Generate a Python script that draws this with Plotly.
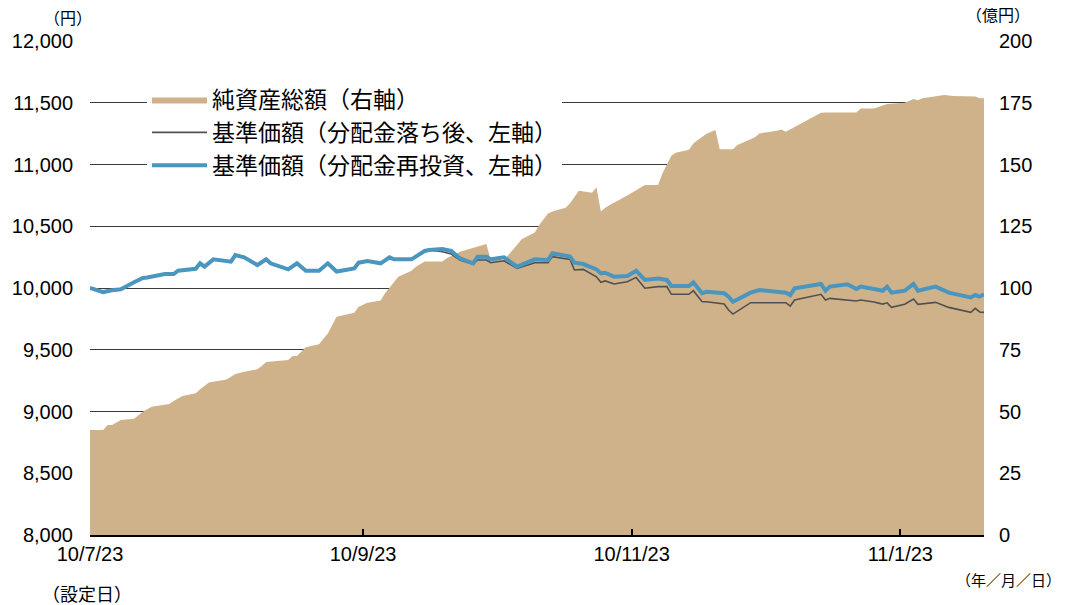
import plotly.graph_objects as go

# ---- Data ----
price_dates = [
    "2010-07-23", "2010-07-26", "2010-07-28", "2010-07-30", "2010-08-02", "2010-08-04", "2010-08-05",
    "2010-08-09", "2010-08-11", "2010-08-12", "2010-08-16", "2010-08-17", "2010-08-18", "2010-08-20",
    "2010-08-24", "2010-08-25", "2010-08-27", "2010-08-30", "2010-09-01", "2010-09-02", "2010-09-06",
    "2010-09-08", "2010-09-10", "2010-09-13", "2010-09-15", "2010-09-17", "2010-09-21", "2010-09-22",
    "2010-09-24", "2010-09-27", "2010-09-29", "2010-09-30", "2010-10-04", "2010-10-05", "2010-10-07",
    "2010-10-08", "2010-10-11", "2010-10-13", "2010-10-15", "2010-10-18", "2010-10-19", "2010-10-21",
    "2010-10-22", "2010-10-25", "2010-10-28", "2010-11-01", "2010-11-04", "2010-11-05", "2010-11-09",
    "2010-11-10", "2010-11-12", "2010-11-15", "2010-11-16", "2010-11-17", "2010-11-19", "2010-11-22",
    "2010-11-24", "2010-11-26", "2010-11-29", "2010-12-01", "2010-12-02", "2010-12-06", "2010-12-07",
    "2010-12-09", "2010-12-10", "2010-12-14", "2010-12-15", "2010-12-16", "2010-12-20", "2010-12-22",
    "2010-12-27", "2010-12-28", "2010-12-29", "2010-12-30", "2011-01-05", "2011-01-06", "2011-01-07",
    "2011-01-11", "2011-01-13", "2011-01-14", "2011-01-17", "2011-01-19", "2011-01-20", "2011-01-21",
    "2011-01-24", "2011-01-26", "2011-01-27", "2011-01-31", "2011-02-03", "2011-02-08", "2011-02-09",
    "2011-02-10", "2011-02-11",
]
price_reinvested = [
    10000, 9967, 9982, 9990, 10046, 10081, 10085,
    10113, 10113, 10140, 10156, 10200, 10173, 10232,
    10213, 10267, 10249, 10186, 10232, 10200, 10151,
    10200, 10140, 10140, 10200, 10133, 10159, 10205,
    10218, 10200, 10249, 10232, 10232, 10254, 10300,
    10308, 10316, 10300, 10240, 10200, 10254, 10254,
    10232, 10249, 10173, 10232, 10227, 10281, 10254,
    10205, 10194, 10151, 10119, 10124, 10091, 10097,
    10140, 10065, 10076, 10065, 10016, 10016, 10046,
    9957, 9970, 9957, 9930, 9889, 9962, 9984,
    9962, 9962, 9943, 9997, 10033, 9978, 10011,
    10030, 9992, 10011, 9992, 9978, 10011, 9962,
    9978, 10033, 9978, 10011, 9962, 9924, 9943,
    9930, 9949,
]
price_after_dist = [
    10000, 9967, 9982, 9990, 10046, 10081, 10085,
    10113, 10113, 10140, 10156, 10200, 10173, 10232,
    10213, 10267, 10249, 10186, 10232, 10200, 10151,
    10200, 10140, 10140, 10200, 10133, 10159, 10205,
    10218, 10200, 10249, 10232, 10232, 10254, 10300,
    10308, 10294, 10275, 10227, 10192, 10227, 10227,
    10205, 10221, 10159, 10205, 10205, 10254, 10232,
    10146, 10151, 10091, 10046, 10057, 10033, 10051,
    10086, 9998, 10011, 10011, 9949, 9949, 9978,
    9889, 9889, 9870, 9822, 9789, 9881, 9881,
    9881, 9881, 9854, 9903, 9949, 9903, 9916,
    9903, 9895, 9903, 9887, 9870, 9880, 9843,
    9868, 9911, 9868, 9884, 9843, 9803, 9835,
    9806, 9803,
]

nav_dates = [
    "2010-07-23", "2010-07-26", "2010-07-27", "2010-07-28", "2010-07-30", "2010-08-02", "2010-08-04",
    "2010-08-06", "2010-08-10", "2010-08-11", "2010-08-13", "2010-08-16", "2010-08-17", "2010-08-19",
    "2010-08-23", "2010-08-25", "2010-08-27", "2010-08-30", "2010-08-31", "2010-09-01", "2010-09-06",
    "2010-09-07", "2010-09-08", "2010-09-10", "2010-09-13", "2010-09-15", "2010-09-17", "2010-09-21",
    "2010-09-22", "2010-09-24", "2010-09-27", "2010-09-28", "2010-10-01", "2010-10-04", "2010-10-05",
    "2010-10-07", "2010-10-11", "2010-10-12", "2010-10-15", "2010-10-20", "2010-10-21", "2010-10-22",
    "2010-10-25", "2010-10-28", "2010-10-29", "2010-11-01", "2010-11-02", "2010-11-04", "2010-11-05",
    "2010-11-08", "2010-11-09", "2010-11-11", "2010-11-12", "2010-11-14", "2010-11-15", "2010-11-16",
    "2010-11-17", "2010-11-18", "2010-11-22", "2010-11-24", "2010-11-26", "2010-11-29", "2010-11-30",
    "2010-12-02", "2010-12-03", "2010-12-06", "2010-12-07", "2010-12-08", "2010-12-10", "2010-12-12",
    "2010-12-13", "2010-12-16", "2010-12-17", "2010-12-21", "2010-12-22", "2010-12-26", "2010-12-27",
    "2010-12-28", "2011-01-05", "2011-01-06", "2011-01-13", "2011-01-14", "2011-01-17", "2011-01-20",
    "2011-01-24", "2011-01-26", "2011-01-27", "2011-01-28", "2011-01-31", "2011-02-02", "2011-02-04",
    "2011-02-08", "2011-02-09", "2011-02-10", "2011-02-11",
]
nav_total = [
    42.5, 42.5, 44.5, 44.5, 46.6, 47.1, 49.9,
    51.9, 53.0, 54.3, 56.3, 57.4, 59.0, 61.7,
    63.0, 65.2, 66.1, 67.1, 68.4, 70.0, 70.9,
    72.5, 72.5, 76.0, 77.2, 81.6, 88.4, 90.0,
    92.4, 94.0, 94.9, 97.9, 104.6, 107.0, 108.6,
    110.7, 110.7, 112.0, 114.7, 117.4, 117.8, 111.3,
    111.3, 117.5, 119.7, 122.5, 125.5, 130.2, 131.0,
    132.5, 134.3, 139.4, 139.2, 138.6, 140.8, 131.0,
    132.5, 133.6, 137.5, 139.5, 141.7, 141.7, 146.5,
    153.5, 154.8, 156.0, 158.5, 159.9, 162.5, 164.0,
    156.2, 156.2, 157.9, 161.0, 162.6, 163.7, 164.2,
    163.3, 171.0, 171.1, 171.1, 172.7, 172.7, 174.5,
    175.0, 176.5, 176.0, 176.8, 177.5, 178.1, 177.7,
    177.7, 177.5, 176.8, 176.8,
]

tick_dates = ["2010-07-23", "2010-09-23", "2010-11-23", "2011-01-23"]
tick_text = ["10/7/23", "10/9/23", "10/11/23", "11/1/23"]
left_ticks = [8000, 8500, 9000, 9500, 10000, 10500, 11000, 11500, 12000]
right_ticks = [0, 25, 50, 75, 100, 125, 150, 175, 200]

names = ["純資産総額（右軸）", "基準価額（分配金落ち後、左軸）", "基準価額（分配金再投資、左軸）"]

FONT = "Arial, 'Liberation Sans', 'Noto Sans CJK JP', sans-serif"
FILL = "#D0B28A"
BLUE = "#4A96BF"
DARK = "#505050"

# The page body has an 8px default margin; the figure is sized so the
# plot area lands at the reference's pixel positions.
OFF = 8
PL, PT, PW, PH = 90, 41, 894, 494  # plot area in window pixels

fig = go.Figure()
fig.add_trace(go.Scatter(
    x=nav_dates, y=nav_total, name=names[0], mode="lines",
    line=dict(width=0, color=FILL), fill="tozeroy", fillcolor=FILL,
    yaxis="y", legendgroup="a",
))
fig.add_trace(go.Scatter(
    x=price_dates, y=price_after_dist, name=names[1], mode="lines",
    line=dict(width=1.6, color=DARK), yaxis="y2", legendgroup="b",
))
fig.add_trace(go.Scatter(
    x=price_dates, y=price_reinvested, name=names[2], mode="lines",
    line=dict(width=4, color=BLUE), yaxis="y2", legendgroup="c",
))

W, H = 1068 - OFF, 605 - OFF
fig.update_layout(
    width=W, height=H,
    margin=dict(l=PL - OFF, r=W - (PL - OFF) - PW, t=PT - OFF, b=H - (PT - OFF) - PH,
                autoexpand=False),
    paper_bgcolor="white", plot_bgcolor="white",
    font=dict(family=FONT, size=20, color="#000000"),
    showlegend=True,
    legend=dict(
        x=(147 - PL) / PW, y=(PT + PH - 78) / PH, xanchor="left", yanchor="top",
        bgcolor="white", borderwidth=0,
        font=dict(size=23, family=FONT, color="#000000"),
        traceorder="grouped", tracegroupgap=0, itemwidth=55,
    ),
    xaxis=dict(
        type="date",
        range=["2010-07-23", "2011-02-11"],
        tickvals=tick_dates, ticktext=tick_text,
        showgrid=False, zeroline=False,
        showline=True, linecolor="#000000", linewidth=2,
        ticks="inside", ticklen=6, tickwidth=1.5, tickcolor="#000000",
        tickfont=dict(size=20, family=FONT),
        ticklabelstandoff=0,
    ),
    yaxis=dict(
        side="right", range=[0, 200], tickvals=right_ticks,
        showgrid=False, zeroline=False, showline=False,
        tickfont=dict(size=20, family=FONT),
        ticklabelstandoff=14,
    ),
    yaxis2=dict(
        overlaying="y", side="left", range=[8000, 12000], tickvals=left_ticks,
        tickformat=",d",
        showgrid=True, gridcolor="#3A3A3A", gridwidth=1.2,
        zeroline=False, showline=False,
        tickfont=dict(size=20, family=FONT),
        ticklabelstandoff=16,
    ),
)

annotations = [
    dict(text="（円）", x=68, y=18),
    dict(text="（億円）", x=998, y=16),
    dict(text="（年／月／日）", x=1008, y=580),
    dict(text="（設定日）", x=87, y=595),
]
sizes = [16, 16, 15, 18]
for a, s in zip(annotations, sizes):
    fig.add_annotation(
        text=a["text"], xref="paper", yref="paper",
        x=(a["x"] - PL) / PW, y=(PT + PH - a["y"]) / PH,
        xanchor="center", yanchor="middle", showarrow=False,
        font=dict(size=s, family=FONT, color="#000000"),
    )

fig.write_html("out.html")
